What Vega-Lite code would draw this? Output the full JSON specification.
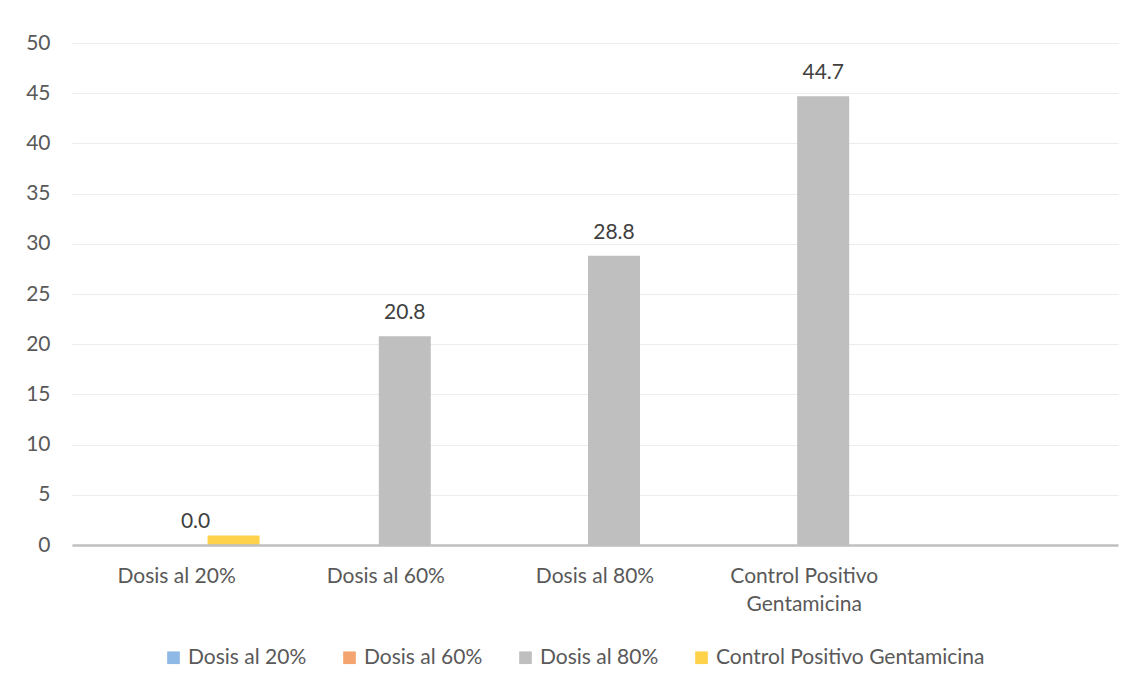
{
  "$schema": "https://vega.github.io/schema/vega-lite/v6.json",
  "autosize": {"type": "none"},
  "width": 1046,
  "height": 502,
  "padding": {"left": 72, "top": 43, "right": 26, "bottom": 145},
  "background": "#ffffff",
  "config": {"font": "Lato", "view": {"stroke": null}},
  "data": {
    "values": [
      {"categoria": "Dosis al 20%", "serie": "Dosis al 20%", "valor": 0},
      {"categoria": "Dosis al 20%", "serie": "Dosis al 60%", "valor": 0},
      {"categoria": "Dosis al 20%", "serie": "Dosis al 80%", "valor": 0.0},
      {"categoria": "Dosis al 20%", "serie": "Control Positivo Gentamicina", "valor": 0.95},
      {"categoria": "Dosis al 60%", "serie": "Dosis al 20%", "valor": 0},
      {"categoria": "Dosis al 60%", "serie": "Dosis al 60%", "valor": 0},
      {"categoria": "Dosis al 60%", "serie": "Dosis al 80%", "valor": 20.8},
      {"categoria": "Dosis al 60%", "serie": "Control Positivo Gentamicina", "valor": 0},
      {"categoria": "Dosis al 80%", "serie": "Dosis al 20%", "valor": 0},
      {"categoria": "Dosis al 80%", "serie": "Dosis al 60%", "valor": 0},
      {"categoria": "Dosis al 80%", "serie": "Dosis al 80%", "valor": 28.8},
      {"categoria": "Dosis al 80%", "serie": "Control Positivo Gentamicina", "valor": 0},
      {"categoria": "Control Positivo Gentamicina", "serie": "Dosis al 20%", "valor": 0},
      {"categoria": "Control Positivo Gentamicina", "serie": "Dosis al 60%", "valor": 0},
      {"categoria": "Control Positivo Gentamicina", "serie": "Dosis al 80%", "valor": 44.7},
      {"categoria": "Control Positivo Gentamicina", "serie": "Control Positivo Gentamicina", "valor": 0}
    ]
  },
  "encoding": {
    "x": {
      "field": "categoria",
      "type": "nominal",
      "scale": {
        "domain": ["Dosis al 20%", "Dosis al 60%", "Dosis al 80%", "Control Positivo Gentamicina", " "],
        "paddingInner": 0.2734,
        "paddingOuter": 0.1367
      },
      "sort": null,
      "axis": {
        "title": null,
        "labelAngle": 0,
        "labelFontSize": 21,
        "labelColor": "#595959",
        "labelPadding": 20,
        "labelLineHeight": 28,
        "labelExpr": "datum.label == 'Control Positivo Gentamicina' ? ['Control Positivo', 'Gentamicina'] : datum.label",
        "ticks": false,
        "domainColor": "#bfbfbf",
        "domainWidth": 2.5,
        "grid": false,
        "zindex": 1
      }
    },
    "xOffset": {
      "field": "serie",
      "type": "nominal",
      "sort": ["Dosis al 20%", "Dosis al 60%", "Dosis al 80%", "Control Positivo Gentamicina"],
      "scale": {"paddingInner": 0, "paddingOuter": 0}
    },
    "y": {
      "field": "valor",
      "type": "quantitative",
      "scale": {"domain": [0, 50], "nice": false},
      "axis": {
        "title": null,
        "values": [0, 5, 10, 15, 20, 25, 30, 35, 40, 45, 50],
        "labelFontSize": 21,
        "labelColor": "#595959",
        "labelPadding": 22,
        "ticks": false,
        "domain": false,
        "gridColor": "#ececec",
        "gridWidth": 1.2
      }
    }
  },
  "layer": [
    {
      "mark": {"type": "bar", "width": 52},
      "encoding": {
        "color": {
          "field": "serie",
          "type": "nominal",
          "scale": {
            "domain": ["Dosis al 20%", "Dosis al 60%", "Dosis al 80%", "Control Positivo Gentamicina"],
            "range": ["#8EB8E5", "#F4A46E", "#BFBFBF", "#FFD24C"]
          },
          "legend": {
            "title": null,
            "orient": "none",
            "direction": "horizontal",
            "columns": 4,
            "legendX": 91,
            "legendY": 604,
            "padding": 0,
            "symbolType": "square",
            "symbolSize": 160,
            "symbolStrokeWidth": 0,
            "labelFontSize": 21,
            "labelColor": "#595959",
            "labelOffset": 4,
            "labelLimit": 500,
            "columnPadding": 32
          }
        }
      }
    },
    {
      "transform": [{"filter": "datum.serie == 'Dosis al 80%'"}],
      "mark": {"type": "text", "fontSize": 21, "color": "#404040", "baseline": "alphabetic", "dy": -17},
      "encoding": {
        "text": {"field": "valor", "type": "quantitative", "format": ".1f"}
      }
    }
  ]
}
